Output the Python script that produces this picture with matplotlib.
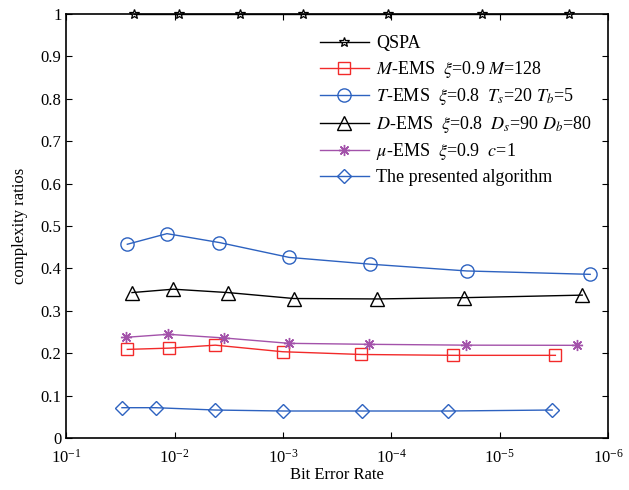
import numpy as np
from matplotlib import pyplot as plt

plt.rcParams['font.family'] = ['Liberation Serif', 'DejaVu Serif']
plt.rcParams['mathtext.fontset'] = 'stix'

# data (BER, complexity ratio)
berQ = [2.38e-2, 9.1e-3, 2.5e-3, 6.5e-4, 1.08e-4, 1.46e-5, 2.27e-6]
valQ = [1, 1, 1, 1, 1, 1, 1]
berM = [2.74e-2, 1.12e-2, 4.22e-3, 1.01e-3, 1.89e-4, 2.68e-5, 3.06e-6]
valM = [0.209, 0.212, 0.219, 0.2035, 0.197, 0.195, 0.195]
berT = [2.74e-2, 1.18e-2, 3.87e-3, 8.8e-4, 1.57e-4, 2.01e-5, 1.46e-6]
valT = [0.457, 0.482, 0.461, 0.426, 0.410, 0.394, 0.386]
berD = [2.48e-2, 1.03e-2, 3.22e-3, 7.96e-4, 1.35e-4, 2.12e-5, 1.73e-6]
valD = [0.343, 0.351, 0.343, 0.329, 0.328, 0.331, 0.337]
berMu = [2.82e-2, 1.15e-2, 3.51e-3, 8.85e-4, 1.61e-4, 2.06e-5, 1.94e-6]
valMu = [0.2375, 0.2446, 0.236, 0.2233, 0.221, 0.219, 0.2186]
berP = [3.07e-2, 1.50e-2, 4.22e-3, 1.01e-3, 1.87e-4, 2.98e-5, 3.28e-6]
valP = [0.0715, 0.0715, 0.066, 0.0637, 0.0637, 0.0637, 0.066]

labels = ["QSPA",
          r"$M$-EMS  $\xi$=0.9 $M$=128",
          r"$T$-EMS  $\xi$=0.8  $T_s$=20 $T_b$=5",
          r"$D$-EMS  $\xi$=0.8  $D_s$=90 $D_b$=80",
          r"$\mu$-EMS  $\xi$=0.9  $c$=1",
          "The presented algorithm"]

fig = plt.figure(figsize=(6.29, 4.90), dpi=100)
ax = fig.add_axes([0.1056, 0.1061, 0.861, 0.8653])

blue = '#2d62c0'
ax.plot(berQ, valQ, color='k', lw=1, marker='*', ms=7.5, mfc='none', mew=0.9,
        clip_on=False, label=labels[0], zorder=5)
ax.plot(berM, valM, color='#f22a2a', lw=1, marker='s', ms=9, mfc='none', mew=1,
        label=labels[1])
ax.plot(berT, valT, color=blue, lw=1, marker='o', ms=9.5, mfc='none', mew=1,
        label=labels[2])
ax.plot(berD, valD, color='k', lw=1, marker='^', ms=10, mfc='none', mew=1,
        label=labels[3])
ax.plot(berMu, valMu, color='#a352aa', lw=1, marker=(8, 2, 0), ms=8, mew=1,
        label=labels[4])
ax.plot(berP, valP, color=blue, lw=1, marker='D', ms=7.5, mfc='none', mew=1,
        label=labels[5])

ax.set_xscale('log')
ax.set_xlim(1e-1, 1e-6)
ax.set_ylim(0, 1)
ax.set_xticks([1e-1, 1e-2, 1e-3, 1e-4, 1e-5, 1e-6])
ax.minorticks_off()
ax.set_yticks(np.arange(0, 1.01, 0.1))
ax.set_yticklabels(['0', '0.1', '0.2', '0.3', '0.4', '0.5', '0.6', '0.7', '0.8', '0.9', '1'])
ax.tick_params(direction='in', top=True, right=True, labelsize=12, length=4, width=0.8)
ax.tick_params(axis='x', pad=8)
for s in ax.spines.values():
    s.set_linewidth(1.2)

ax.set_xlabel('Bit Error Rate', fontsize=12, labelpad=0)
ax.set_ylabel('complexity ratios', fontsize=12, labelpad=9)

ax.legend(loc='upper right', bbox_to_anchor=(0.99, 0.975), frameon=False, fontsize=13,
          handlelength=2.7, labelspacing=0.36, handletextpad=0.4, borderaxespad=0.2)

fig.savefig('out.png', dpi=100)
